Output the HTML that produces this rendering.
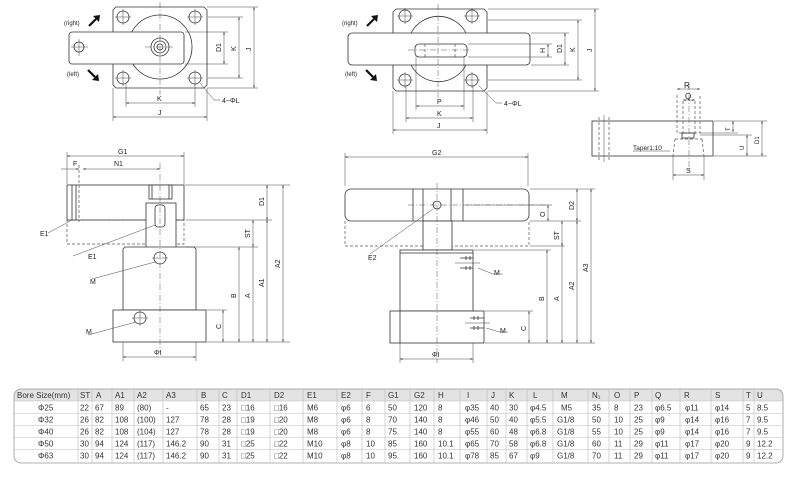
<!DOCTYPE html>
<html><head><meta charset="utf-8"><style>
html,body{margin:0;padding:0;background:#fff;}
svg{display:block;font-family:"Liberation Sans",sans-serif;}
.l{stroke:#333;stroke-width:0.8;fill:none}
.f{stroke:#333;stroke-width:0.8;fill:#fff}
.d{stroke:#444;stroke-width:0.5;fill:none}
.c{stroke:#555;stroke-width:0.5;fill:none;stroke-dasharray:6 2 1 2}
.h{stroke:#555;stroke-width:0.7;fill:none;stroke-dasharray:3 2}
text{font-size:7px;fill:#222}
.t{font-size:8px;fill:#333}
</style></head><body>
<svg width="800" height="484" viewBox="0 0 800 484" xmlns="http://www.w3.org/2000/svg">
<defs>
<marker id="a" viewBox="0 0 6 6" refX="6" refY="3" markerWidth="5" markerHeight="5" orient="auto-start-reverse"><path d="M0,1 L6,3 L0,5z" fill="#333"/></marker>
</defs>
<g id="tl">
<path class="f" d="M116,7 H204 L207,10 V85 L204,88 H116 L113,85 V10z"/>
<circle class="f" cx="160" cy="47" r="32"/>
<rect class="f" x="69" y="32" width="115" height="32" rx="3"/>
<circle class="l" cx="160" cy="47" r="9"/><circle class="l" cx="160" cy="47" r="6"/><circle class="l" cx="160" cy="47" r="3"/>
<circle class="l" cx="79" cy="47" r="5"/>
<line class="d" x1="71" y1="47" x2="88" y2="47"/><line class="d" x1="79" y1="39" x2="79" y2="56"/>
<circle class="l" cx="123" cy="17" r="6"/><circle class="l" cx="195" cy="17" r="6"/><circle class="l" cx="123" cy="78" r="6"/><circle class="l" cx="195" cy="78" r="6"/>
<path class="d" d="M115,17H131M123,9V25M187,17H203M195,9V25M115,78H131M123,70V86M187,78H203M195,70V86"/>
<line class="c" x1="160" y1="2" x2="160" y2="95"/><line class="c" x1="145" y1="47" x2="175" y2="47"/>
<path d="M89,26 L96,19" stroke="#111" stroke-width="2.2"/><path d="M93,16 L100,15 L99,22z" fill="#111"/>
<path d="M88,70 L95,77" stroke="#111" stroke-width="2.2"/><path d="M92,80 L99,81 L98,74z" fill="#111"/>
<text x="64" y="25" style="font-size:6px">(right)</text><text x="67" y="76" style="font-size:6px">(left)</text>
<path class="d" d="M185,32H228M185,64H228M208,17H243M208,78H243M207,7H258M207,88H258"/>
<line class="d" x1="224" y1="32" x2="224" y2="64" marker-start="url(#a)" marker-end="url(#a)"/>
<line class="d" x1="239" y1="17" x2="239" y2="78" marker-start="url(#a)" marker-end="url(#a)"/>
<line class="d" x1="254" y1="7" x2="254" y2="88" marker-start="url(#a)" marker-end="url(#a)"/>
<text transform="translate(221,52) rotate(-90)">D1</text><text transform="translate(236,51) rotate(-90)">K</text><text transform="translate(251,51) rotate(-90)">J</text>
<path class="d" d="M126,84V107M195,84V107M113,88V121M207,88V121"/>
<line class="d" x1="126" y1="103" x2="195" y2="103" marker-start="url(#a)" marker-end="url(#a)"/>
<line class="d" x1="113" y1="117" x2="207" y2="117" marker-start="url(#a)" marker-end="url(#a)"/>
<text x="157" y="101">K</text><text x="158" y="115">J</text>
<path class="d" d="M200,83 L214,100 H220"/><text x="222" y="103">4−ΦL</text>
</g>
<g id="tm">
<path class="f" d="M396,9 H484 L487,12 V88 L484,91 H396 L393,88 V12z"/>
<path class="l" d="M411,33 A31,31 0 0 1 466,33 M411,65 A31,31 0 0 0 466,65"/>
<rect class="f" x="348" y="33" width="182" height="32" rx="4"/>
<rect class="l" x="415" y="44" width="52" height="13" rx="4"/>
<path class="h" d="M425,44V57M455,44V57"/>
<line class="c" x1="438" y1="4" x2="438" y2="98"/><line class="c" x1="408" y1="50" x2="470" y2="50"/>
<circle class="l" cx="405" cy="16" r="6"/><circle class="l" cx="472" cy="16" r="6"/><circle class="l" cx="405" cy="80" r="6"/><circle class="l" cx="472" cy="80" r="6"/>
<path class="d" d="M397,16H413M405,8V24M464,16H480M472,8V24M397,80H413M405,72V88M464,80H480M472,72V88"/>
<path d="M367,26 L374,19" stroke="#111" stroke-width="2.2"/><path d="M371,16 L378,15 L377,22z" fill="#111"/>
<path d="M366,70 L373,77" stroke="#111" stroke-width="2.2"/><path d="M370,80 L377,81 L376,74z" fill="#111"/>
<text x="342" y="25" style="font-size:6px">(right)</text><text x="345" y="76" style="font-size:6px">(left)</text>
<path class="d" d="M468,44H552M468,57H552M531,33H569M531,65H569M488,20H582M488,80H582M488,9H599M488,91H599"/>
<line class="d" x1="548" y1="44" x2="548" y2="57" marker-start="url(#a)" marker-end="url(#a)"/>
<line class="d" x1="565" y1="33" x2="565" y2="65" marker-start="url(#a)" marker-end="url(#a)"/>
<line class="d" x1="578" y1="20" x2="578" y2="80" marker-start="url(#a)" marker-end="url(#a)"/>
<line class="d" x1="595" y1="9" x2="595" y2="91" marker-start="url(#a)" marker-end="url(#a)"/>
<text transform="translate(545,53) rotate(-90)">H</text><text transform="translate(562,53) rotate(-90)">D1</text><text transform="translate(575,52) rotate(-90)">K</text><text transform="translate(592,52) rotate(-90)">J</text>
<path class="d" d="M416,57V110M464,57V110M406,86V122M473,86V122M393,91V134M487,91V134"/>
<line class="d" x1="416" y1="106" x2="464" y2="106" marker-start="url(#a)" marker-end="url(#a)"/>
<line class="d" x1="406" y1="118" x2="473" y2="118" marker-start="url(#a)" marker-end="url(#a)"/>
<line class="d" x1="393" y1="130" x2="487" y2="130" marker-start="url(#a)" marker-end="url(#a)"/>
<text x="437" y="104">P</text><text x="437" y="116">K</text><text x="437" y="128">J</text>
<path class="d" d="M479,86 L496,103 H502"/><text x="504" y="106">4−ΦL</text>
</g>
<g id="bl">
<line class="d" x1="67" y1="152" x2="67" y2="184"/><line class="d" x1="184" y1="152" x2="184" y2="184"/>
<line class="d" x1="67" y1="156" x2="184" y2="156" marker-start="url(#a)" marker-end="url(#a)"/>
<text x="118" y="154">G1</text>
<line class="d" x1="61" y1="169" x2="79" y2="169" marker-end="url(#a)"/>
<line class="d" x1="83" y1="169" x2="160" y2="169" marker-start="url(#a)" marker-end="url(#a)"/>
<text x="73" y="166">F</text><text x="114" y="166">N1</text>
<rect class="h" x="67" y="220" width="117" height="24"/>
<rect class="f" x="67" y="185" width="117" height="35"/>
<path class="l" d="M72,185V220M76,185V220"/><line class="h" x1="79" y1="165" x2="79" y2="222"/>
<rect class="f" x="146" y="203" width="30" height="45"/>
<rect class="f" x="149" y="185" width="23" height="14"/>
<path class="l" d="M152,185V199M169,185V199"/>
<rect class="l" x="155" y="205" width="10" height="22" rx="3"/>
<path class="f" d="M125,247 H194 L196,249 V310 H123 V249z"/>
<rect class="f" x="113" y="310" width="93" height="32"/>
<circle class="l" cx="160" cy="258" r="6"/><circle class="l" cx="140" cy="318" r="6"/>
<path class="d" d="M132,318H148M140,310V326M152,258H168"/>
<line class="c" x1="160" y1="163" x2="160" y2="352"/>
<path class="d" d="M48,233 L72,220 M73,256 L155,225 M92,279 L155,262 M88,335 L136,322"/>
<text x="40" y="236">E1</text><text x="88" y="259">E1</text><text x="90" y="284">M</text><text x="86" y="334">M</text>
<path class="d" d="M185,185H290M186,220H272M186,247H258M207,310H227M207,342H290"/>
<line class="d" x1="223" y1="310" x2="223" y2="342" marker-start="url(#a)" marker-end="url(#a)"/>
<line class="d" x1="239" y1="247" x2="239" y2="342" marker-start="url(#a)" marker-end="url(#a)"/>
<line class="d" x1="253" y1="220" x2="253" y2="247" marker-start="url(#a)" marker-end="url(#a)"/>
<line class="d" x1="253" y1="247" x2="253" y2="342" marker-end="url(#a)"/>
<line class="d" x1="267" y1="185" x2="267" y2="220" marker-start="url(#a)" marker-end="url(#a)"/>
<line class="d" x1="267" y1="220" x2="267" y2="342" marker-start="url(#a)" marker-end="url(#a)"/>
<line class="d" x1="283" y1="185" x2="283" y2="342" marker-start="url(#a)" marker-end="url(#a)"/>
<text transform="translate(221,329) rotate(-90)">C</text><text transform="translate(236,298) rotate(-90)">B</text><text transform="translate(250,298) rotate(-90)">A</text><text transform="translate(250,238) rotate(-90)">ST</text>
<text transform="translate(264,206) rotate(-90)">D1</text><text transform="translate(264,287) rotate(-90)">A1</text><text transform="translate(280,268) rotate(-90)">A2</text>
<path class="d" d="M123,342V361M196,342V361"/>
<line class="d" x1="123" y1="357" x2="196" y2="357" marker-start="url(#a)" marker-end="url(#a)"/>
<text x="154" y="355">ΦI</text>
</g>
<g id="bm">
<line class="d" x1="345" y1="153" x2="345" y2="186"/><line class="d" x1="528" y1="153" x2="528" y2="186"/>
<line class="d" x1="345" y1="157" x2="528" y2="157" marker-start="url(#a)" marker-end="url(#a)"/>
<text x="432" y="155">G2</text>
<path class="h" d="M345,221V246H529V221"/>
<rect class="f" x="345" y="189" width="184" height="32" rx="6"/>
<path class="l" d="M413,189V221M423,189V221M451,189V221M463,189V221"/>
<line class="c" x1="408" y1="205" x2="550" y2="205"/>
<circle class="l" cx="437" cy="205" r="4"/>
<rect class="f" x="423" y="221" width="29" height="29"/>
<rect class="f" x="400" y="250" width="73" height="61"/>
<line class="l" x1="400" y1="253" x2="473" y2="253"/>
<rect class="f" x="390" y="311" width="94" height="32"/>
<path class="l" d="M400,311V343"/>
<line class="c" x1="437" y1="183" x2="437" y2="363"/>
<path class="l" d="M460,258h13M460,268h13M466,256v4M466,266v4M470,256v4M470,266v4M470,318h14M470,328h14M474,316v4M478,316v4M474,326v4M478,326v4"/>
<line class="d" x1="455" y1="263" x2="480" y2="263"/><line class="d" x1="465" y1="323" x2="490" y2="323"/>
<path class="d" d="M370,254 L433,209 M478,268 L493,274 H503 M486,328 L500,332 H508"/>
<text x="368" y="260">E2</text><text x="494" y="275">M</text><text x="500" y="333">M</text>
<path class="d" d="M530,189H595M466,205H552M530,221H581M530,246H565M474,250H551M485,311H533M485,343H595"/>
<line class="d" x1="548" y1="205" x2="548" y2="221" marker-start="url(#a)" marker-end="url(#a)"/>
<line class="d" x1="577" y1="189" x2="577" y2="221" marker-start="url(#a)" marker-end="url(#a)"/>
<line class="d" x1="562" y1="221" x2="562" y2="246" marker-start="url(#a)" marker-end="url(#a)"/>
<line class="d" x1="547" y1="250" x2="547" y2="343" marker-start="url(#a)" marker-end="url(#a)"/>
<line class="d" x1="562" y1="246" x2="562" y2="343" marker-end="url(#a)"/>
<line class="d" x1="577" y1="221" x2="577" y2="343" marker-start="url(#a)" marker-end="url(#a)"/>
<line class="d" x1="591" y1="189" x2="591" y2="343" marker-start="url(#a)" marker-end="url(#a)"/>
<line class="d" x1="529" y1="311" x2="529" y2="343" marker-start="url(#a)" marker-end="url(#a)"/>
<text transform="translate(545,217) rotate(-90)">O</text><text transform="translate(574,210) rotate(-90)">D2</text><text transform="translate(559,240) rotate(-90)">ST</text>
<text transform="translate(544,301) rotate(-90)">B</text><text transform="translate(559,301) rotate(-90)">A</text><text transform="translate(574,290) rotate(-90)">A2</text><text transform="translate(588,272) rotate(-90)">A3</text><text transform="translate(526,331) rotate(-90)">C</text>
<path class="d" d="M400,343V363M473,343V363"/>
<line class="d" x1="400" y1="359" x2="473" y2="359" marker-start="url(#a)" marker-end="url(#a)"/>
<text x="432" y="357">ΦI</text>
</g>
<g id="rs">
<rect class="f" x="592" y="121" width="121" height="35"/>
<path class="h" d="M599,117V160M609,117V160"/><line class="d" x1="604" y1="115" x2="604" y2="162"/>
<path class="h" d="M677,95V133H700V95M683,101V134M695,101V134M675,139L673,156M702,139L704,156M675,139H702"/>
<rect class="l" x="682" y="133" width="12" height="5"/>
<line class="c" x1="689" y1="84" x2="689" y2="172"/>
<line class="d" x1="677" y1="89" x2="700" y2="89" marker-start="url(#a)" marker-end="url(#a)"/>
<line class="d" x1="683" y1="100" x2="695" y2="100" marker-start="url(#a)" marker-end="url(#a)"/>
<text x="684" y="88" style="font-size:8px">R</text><text x="685" y="99" style="font-size:8px">Q</text>
<path class="d" d="M673,156V180M704,156V180"/>
<line class="d" x1="673" y1="175" x2="704" y2="175" marker-start="url(#a)" marker-end="url(#a)"/>
<text x="686" y="173">S</text>
<text x="633" y="150" style="font-size:6.5px">Taper1:10</text><line class="d" x1="633" y1="151" x2="670" y2="151"/>
<path class="d" d="M714,121H767M700,133H738M700,135H752M714,156H767"/>
<line class="d" x1="733" y1="121" x2="733" y2="132" marker-start="url(#a)" marker-end="url(#a)"/>
<line class="d" x1="747" y1="135" x2="747" y2="156" marker-start="url(#a)" marker-end="url(#a)"/>
<line class="d" x1="762" y1="121" x2="762" y2="156" marker-start="url(#a)" marker-end="url(#a)"/>
<text transform="translate(730,131) rotate(-90)" style="font-size:6px">T</text><text transform="translate(744,150) rotate(-90)" style="font-size:6px">U</text><text transform="translate(759,144) rotate(-90)" style="font-size:6px">D1</text>
</g>
<g id="tbl">
<path d="M22,389 H777 Q783,389 783,395 V401 H14 V397 Q14,389 22,389z" fill="#e3e3e3"/>
<rect x="14" y="389" width="769" height="74" rx="7" fill="none" stroke="#999" stroke-width="0.8"/>
<g stroke="#bbb" stroke-width="0.6">
<line x1="14" y1="401" x2="783" y2="401"/><line x1="14" y1="413.5" x2="783" y2="413.5"/><line x1="14" y1="425.5" x2="783" y2="425.5"/><line x1="14" y1="437.5" x2="783" y2="437.5"/><line x1="14" y1="449.5" x2="783" y2="449.5"/>
<path d="M78,389V463M92,389V463M112,389V463M134,389V463M163,389V463M197,389V463M219,389V463M237,389V463M270,389V463M303,389V463M337,389V463M362,389V463M385,389V463M410,389V463M434,389V463M460,389V463M487,389V463M506,389V463M527,389V463M553,389V463M588,389V463M609,389V463M630,389V463M652,389V463M680,389V463M711,389V463M743,389V463M754,389V463"/>
</g>
<g class="t">
<text x="17" y="398" class="t">Bore Size(mm)</text><text x="80" y="398" class="t">ST</text><text x="96" y="398" class="t">A</text><text x="115" y="398" class="t">A1</text><text x="137" y="398" class="t">A2</text><text x="166" y="398" class="t">A3</text><text x="201" y="398" class="t">B</text><text x="222" y="398" class="t">C</text><text x="241" y="398" class="t">D1</text><text x="274" y="398" class="t">D2</text><text x="307" y="398" class="t">E1</text><text x="341" y="398" class="t">E2</text><text x="366" y="398" class="t">F</text><text x="388" y="398" class="t">G1</text><text x="414" y="398" class="t">G2</text><text x="438" y="398" class="t">H</text><text x="467" y="398" class="t">I</text><text x="491" y="398" class="t">J</text><text x="509" y="398" class="t">K</text><text x="533" y="398" class="t">L</text><text x="561" y="398" class="t">M</text><text x="592" y="398" class="t">N₁</text><text x="614" y="398" class="t">O</text><text x="634" y="398" class="t">P</text><text x="655" y="398" class="t">Q</text><text x="684" y="398" class="t">R</text><text x="715" y="398" class="t">S</text><text x="746" y="398" class="t">T</text><text x="757" y="398" class="t">U</text>
</g>
<g class="t">
<text y="410.5"><tspan x="38" class="t">Φ25</tspan><tspan x="80" class="t">22</tspan><tspan x="95" class="t">67</tspan><tspan x="115" class="t">89</tspan><tspan x="137" class="t">(80)</tspan><tspan x="166" class="t">-</tspan><tspan x="200" class="t">65</tspan><tspan x="222" class="t">23</tspan><tspan x="241" class="t">□16</tspan><tspan x="274" class="t">□16</tspan><tspan x="307" class="t">M6</tspan><tspan x="341" class="t">φ6</tspan><tspan x="366" class="t">6</tspan><tspan x="388" class="t">50</tspan><tspan x="414" class="t">120</tspan><tspan x="438" class="t">8</tspan><tspan x="465" class="t">φ35</tspan><tspan x="490" class="t">40</tspan><tspan x="509" class="t">30</tspan><tspan x="530" class="t">φ4.5</tspan><tspan x="561" class="t">M5</tspan><tspan x="592" class="t">35</tspan><tspan x="614" class="t">8</tspan><tspan x="634" class="t">23</tspan><tspan x="655" class="t">φ6.5</tspan><tspan x="685" class="t">φ11</tspan><tspan x="715" class="t">φ14</tspan><tspan x="746" class="t">5</tspan><tspan x="757" class="t">8.5</tspan></text>
<text y="422.5"><tspan x="38" class="t">Φ32</tspan><tspan x="80" class="t">26</tspan><tspan x="95" class="t">82</tspan><tspan x="115" class="t">108</tspan><tspan x="137" class="t">(100)</tspan><tspan x="166" class="t">127</tspan><tspan x="200" class="t">78</tspan><tspan x="222" class="t">28</tspan><tspan x="241" class="t">□19</tspan><tspan x="274" class="t">□20</tspan><tspan x="307" class="t">M8</tspan><tspan x="341" class="t">φ6</tspan><tspan x="366" class="t">8</tspan><tspan x="388" class="t">70</tspan><tspan x="414" class="t">140</tspan><tspan x="438" class="t">8</tspan><tspan x="465" class="t">φ46</tspan><tspan x="490" class="t">50</tspan><tspan x="509" class="t">40</tspan><tspan x="530" class="t">φ5.5</tspan><tspan x="557" class="t">G1/8</tspan><tspan x="592" class="t">50</tspan><tspan x="614" class="t">10</tspan><tspan x="634" class="t">25</tspan><tspan x="655" class="t">φ9</tspan><tspan x="685" class="t">φ14</tspan><tspan x="715" class="t">φ16</tspan><tspan x="746" class="t">7</tspan><tspan x="757" class="t">9.5</tspan></text>
<text y="434.5"><tspan x="38" class="t">Φ40</tspan><tspan x="80" class="t">26</tspan><tspan x="95" class="t">82</tspan><tspan x="115" class="t">108</tspan><tspan x="137" class="t">(104)</tspan><tspan x="166" class="t">127</tspan><tspan x="200" class="t">78</tspan><tspan x="222" class="t">28</tspan><tspan x="241" class="t">□19</tspan><tspan x="274" class="t">□20</tspan><tspan x="307" class="t">M8</tspan><tspan x="341" class="t">φ6</tspan><tspan x="366" class="t">8</tspan><tspan x="388" class="t">75</tspan><tspan x="414" class="t">140</tspan><tspan x="438" class="t">8</tspan><tspan x="465" class="t">φ55</tspan><tspan x="490" class="t">60</tspan><tspan x="509" class="t">48</tspan><tspan x="530" class="t">φ6.8</tspan><tspan x="557" class="t">G1/8</tspan><tspan x="592" class="t">55</tspan><tspan x="614" class="t">10</tspan><tspan x="634" class="t">25</tspan><tspan x="655" class="t">φ9</tspan><tspan x="685" class="t">φ14</tspan><tspan x="715" class="t">φ16</tspan><tspan x="746" class="t">7</tspan><tspan x="757" class="t">9.5</tspan></text>
<text y="446.5"><tspan x="38" class="t">Φ50</tspan><tspan x="80" class="t">30</tspan><tspan x="95" class="t">94</tspan><tspan x="115" class="t">124</tspan><tspan x="137" class="t">(117)</tspan><tspan x="166" class="t">146.2</tspan><tspan x="200" class="t">90</tspan><tspan x="222" class="t">31</tspan><tspan x="241" class="t">□25</tspan><tspan x="274" class="t">□22</tspan><tspan x="307" class="t">M10</tspan><tspan x="341" class="t">φ8</tspan><tspan x="366" class="t">10</tspan><tspan x="388" class="t">85</tspan><tspan x="414" class="t">160</tspan><tspan x="438" class="t">10.1</tspan><tspan x="465" class="t">φ65</tspan><tspan x="490" class="t">70</tspan><tspan x="509" class="t">58</tspan><tspan x="530" class="t">φ6.8</tspan><tspan x="557" class="t">G1/8</tspan><tspan x="592" class="t">60</tspan><tspan x="614" class="t">11</tspan><tspan x="634" class="t">29</tspan><tspan x="655" class="t">φ11</tspan><tspan x="685" class="t">φ17</tspan><tspan x="715" class="t">φ20</tspan><tspan x="746" class="t">9</tspan><tspan x="757" class="t">12.2</tspan></text>
<text y="458.5"><tspan x="38" class="t">Φ63</tspan><tspan x="80" class="t">30</tspan><tspan x="95" class="t">94</tspan><tspan x="115" class="t">124</tspan><tspan x="137" class="t">(117)</tspan><tspan x="166" class="t">146.2</tspan><tspan x="200" class="t">90</tspan><tspan x="222" class="t">31</tspan><tspan x="241" class="t">□25</tspan><tspan x="274" class="t">□22</tspan><tspan x="307" class="t">M10</tspan><tspan x="341" class="t">φ8</tspan><tspan x="366" class="t">10</tspan><tspan x="388" class="t">95</tspan><tspan x="414" class="t">160</tspan><tspan x="438" class="t">10.1</tspan><tspan x="465" class="t">φ78</tspan><tspan x="490" class="t">85</tspan><tspan x="509" class="t">67</tspan><tspan x="530" class="t">φ9</tspan><tspan x="557" class="t">G1/8</tspan><tspan x="592" class="t">70</tspan><tspan x="614" class="t">11</tspan><tspan x="634" class="t">29</tspan><tspan x="655" class="t">φ11</tspan><tspan x="685" class="t">φ17</tspan><tspan x="715" class="t">φ20</tspan><tspan x="746" class="t">9</tspan><tspan x="757" class="t">12.2</tspan></text>
</g>
</g>
</svg>
</body></html>
